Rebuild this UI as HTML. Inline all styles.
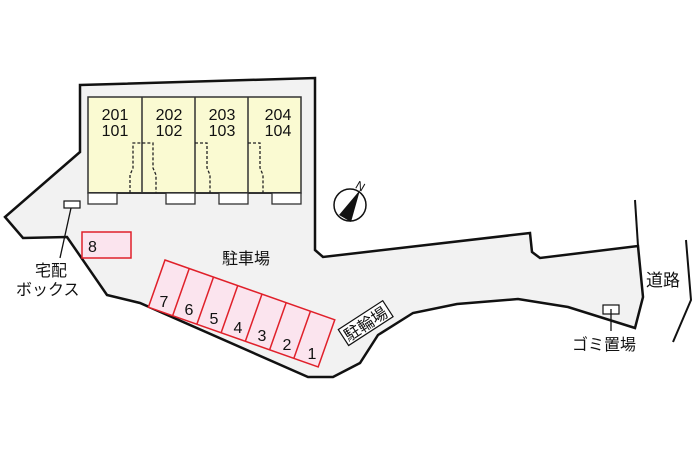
<!DOCTYPE html>
<html><head><meta charset="utf-8"><style>
body{margin:0;background:#fff}
svg{display:block}
text{font-family:"Liberation Sans","Noto Sans CJK JP",sans-serif;fill:#111}
</style></head><body>
<svg width="700" height="466" viewBox="0 0 700 466">
<polygon points="80,85 315,78 315,250 323,257 530,233 532,252 540,258 638,246 643,297 635,328 568,307 518,299 457,304 413,313 378,335 360,363 333,377 308,377 140,303 107,295 67,237 23,238 5,217 80,152" fill="#f2f2f2" stroke="#111" stroke-width="2.5" stroke-linejoin="miter"/>
<polyline points="635,200 638,246" fill="none" stroke="#111" stroke-width="2"/>
<polyline points="686,240 691,300 673,342" fill="none" stroke="#111" stroke-width="2"/>
<rect x="88" y="97" width="213" height="96" fill="#fafad2" stroke="#333" stroke-width="1.5"/>
<g stroke="#333" stroke-width="1.5"><line x1="142" y1="97" x2="142" y2="193"/><line x1="195" y1="97" x2="195" y2="193"/><line x1="248" y1="97" x2="248" y2="193"/><line x1="88" y1="193" x2="301" y2="193" stroke-width="2"/></g>
<g fill="#fff" stroke="#333" stroke-width="1.3">
<rect x="88" y="193" width="29" height="11"/><rect x="166" y="193" width="29" height="11"/><rect x="219" y="193" width="29" height="11"/><rect x="272" y="193" width="29" height="11"/></g>
<g fill="none" stroke="#222" stroke-width="1.3" stroke-dasharray="3,2">
<polyline points="130,193 130,175 133,168 133,143 153,143 153,168 156,175 156,193"/>
<polyline points="195,143 207,143 207,168 210,175 210,193"/>
<polyline points="248,143 260,143 260,168 263,175 263,193"/>
</g>
<g font-size="16" text-anchor="middle">
<text x="115" y="120">201</text><text x="115" y="136">101</text>
<text x="169" y="120">202</text><text x="169" y="136">102</text>
<text x="222" y="120">203</text><text x="222" y="136">103</text>
<text x="278" y="120">204</text><text x="278" y="136">104</text>
</g>
<rect x="82" y="232" width="49" height="26" fill="#fbe4ee" stroke="#e0202a" stroke-width="1.5"/>
<text x="88" y="252" font-size="16">8</text>
<g transform="translate(165,260) rotate(19.4)">
<rect x="0" y="0" width="180" height="50" fill="#fbe4ee" stroke="#e0202a" stroke-width="1.5"/>
<g stroke="#e0202a" stroke-width="1.5">
<line x1="25.7" y1="0" x2="25.7" y2="50"/><line x1="51.4" y1="0" x2="51.4" y2="50"/><line x1="77.1" y1="0" x2="77.1" y2="50"/><line x1="102.8" y1="0" x2="102.8" y2="50"/><line x1="128.5" y1="0" x2="128.5" y2="50"/><line x1="154.2" y1="0" x2="154.2" y2="50"/></g>
</g>
<g font-size="16" text-anchor="middle">
<text x="164" y="307">7</text><text x="189" y="315">6</text><text x="214" y="324">5</text><text x="238" y="333">4</text><text x="262" y="341">3</text><text x="287" y="350">2</text><text x="312" y="359">1</text>
</g>
<text x="222" y="264" font-size="16">駐車場</text>
<g transform="translate(347,343) rotate(-33)">
<rect x="0" y="-16" width="53" height="19" fill="#fff" stroke="#111" stroke-width="1.2"/>
<text x="2" y="0" font-size="16">駐輪場</text>
</g>
<circle cx="350" cy="205" r="16" fill="#fff" stroke="#111" stroke-width="1.5"/>
<polygon points="360,190 339,215 351,222" fill="#111"/>
<text x="356" y="190" font-size="12" transform="rotate(30 360 186)">N</text>
<rect x="64" y="201" width="16" height="7" fill="#fff" stroke="#111" stroke-width="1.2"/>
<line x1="71" y1="208" x2="60" y2="258" stroke="#111" stroke-width="1.3"/>
<text x="35" y="276" font-size="16">宅配</text>
<text x="16" y="295" font-size="16">ボックス</text>
<rect x="603" y="305" width="16" height="9" fill="#fff" stroke="#111" stroke-width="1.2"/>
<line x1="611" y1="309" x2="611" y2="331" stroke="#111" stroke-width="1.3"/>
<text x="572" y="350" font-size="16">ゴミ置場</text>
<text x="646" y="286" font-size="17">道路</text>
</svg>
</body></html>
